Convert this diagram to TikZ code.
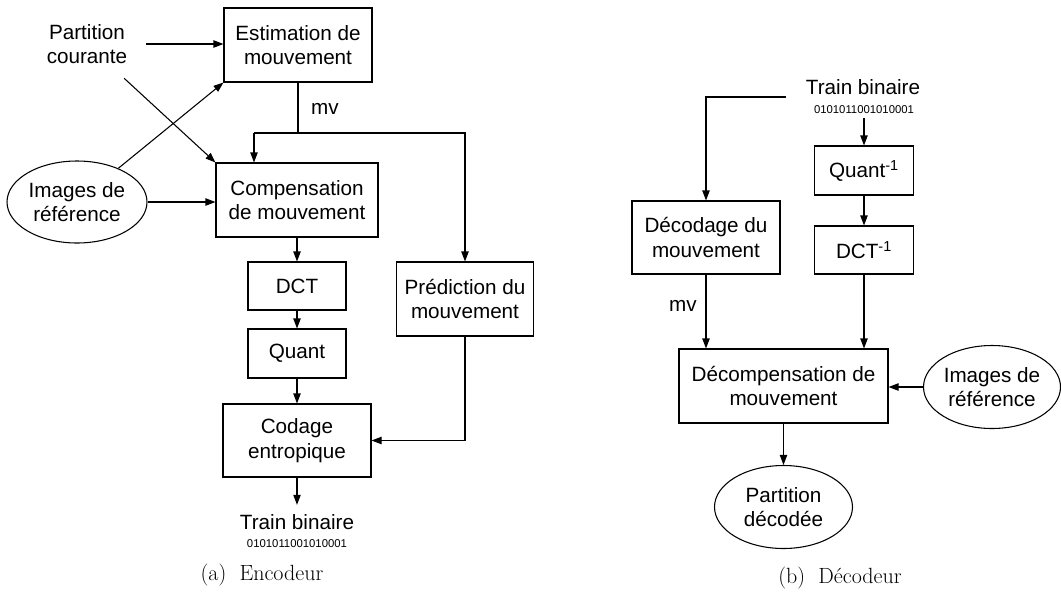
\documentclass[tikz,border=0pt]{standalone}
\usepackage{fontspec}
\setsansfont{Liberation Sans}
\usepackage{tikz}
\usetikzlibrary{arrows.meta, positioning, calc, shapes.geometric}

\begin{document}
\begin{tikzpicture}[x=0.75pt, y=-0.75pt,
  font=\sffamily\fontsize{15.5}{18.5}\selectfont,
  block/.style={draw, line width=0.8pt, align=center, inner sep=0pt},
  oval/.style={draw, ellipse, line width=0.8pt, align=center, inner sep=0pt},
  arr/.style={-{Triangle[length=7.5pt,width=5.5pt]}, line width=0.8pt},
  ln/.style={line width=0.8pt},
  bits/.style={font=\sffamily\fontsize{8.5}{10}\selectfont, inner sep=3pt},
  capt/.style={font=\rmfamily\fontsize{16.5}{19}\selectfont}]
  \useasboundingbox (0,0) rectangle (1061,597);

  % encodeur
  \node[align=center, minimum width=88.5pt, minimum height=51pt, inner sep=0pt] (cur) at (87,44) {Partition\\courante};
  \node[block, minimum width=111pt, minimum height=55.5pt] (est) at (298,45) {Estimation de\\mouvement};
  \node[oval, minimum width=105pt, minimum height=61.5pt] (refA) at (77,202) {Images de\\référence};
  \node[block, minimum width=121.5pt, minimum height=55.5pt] (comp) at (297,200) {Compensation\\de mouvement};
  \node[block, minimum width=73.5pt, minimum height=36pt] (dct) at (297,286) {DCT};
  \node[block, minimum width=73.5pt, minimum height=36.75pt] (quant) at (297,353.5) {Quant};
  \node[block, minimum width=111pt, minimum height=54.75pt] (cod) at (297,440.5) {Codage\\entropique};
  \node[block, minimum width=102.75pt, minimum height=55.5pt] (pred) at (465,299) {Prédiction du\\mouvement};
  \node (mvA) at (325,109) {mv};
  \node[inner sep=7pt] (trainA) at (297,522) {Train binaire};
  \node[bits] (bitsA) at (297,544) {0101011001010001};
  \node[capt] (captA) at (262,575) {(a)\hspace{0.6em}Encodeur};

  \draw[arr] (cur.east) -- (cur.east -| est.west);
  \draw[arr] (cur) -- (comp.north west);
  \draw[arr] (refA) -- (est.south west);
  \draw[arr] (refA.east) -- (refA.east -| comp.west);
  \coordinate (split) at (est.south |- 0,133);
  \coordinate (mvL) at (254,133);
  \draw[ln] (est.south) -- (split);
  \draw[arr] (mvL) -- (mvL |- comp.north);
  \draw[arr] (mvL) -| (pred.north);
  \draw[arr] (comp) -- (dct);
  \draw[arr] (dct) -- (quant);
  \draw[arr] (quant) -- (cod);
  \draw[arr] (pred.south) |- (cod.east);
  \draw[arr] (cod) -- (trainA);

  % decodeur
  \node[inner sep=3pt] (trainB) at (863,87) {Train binaire};
  \node[bits] (bitsB) at (864,110) {0101011001010001};
  \node[block, minimum width=74.25pt, minimum height=36.75pt] (qinv) at (864,170.5) {Quant\textsuperscript{-1}};
  \node[block, minimum width=74.25pt, minimum height=36pt] (dinv) at (864,250) {DCT\textsuperscript{-1}};
  \node[block, minimum width=111pt, minimum height=54.75pt] (decm) at (706,237.5) {Décodage du\\mouvement};
  \node[block, minimum width=156.75pt, minimum height=55.5pt] (decomp) at (783.5,386) {Décompensation de\\mouvement};
  \node[oval, minimum width=102.75pt, minimum height=62.25pt] (refB) at (992,387) {Images de\\référence};
  \node[oval, minimum width=103.5pt, minimum height=62.25pt] (partB) at (783.5,507) {Partition\\décodée};
  \node (mvB) at (683,306) {mv};
  \node[capt] (captB) at (840,578) {(b)\hspace{0.6em}Décodeur};

  \coordinate (tapB) at ([xshift=-12pt, yshift=-7.5pt]trainB.west);
  \draw[arr] (tapB) -| (decm.north);
  \draw[arr] (bitsB) -- (qinv);
  \draw[arr] (qinv) -- (dinv);
  \draw[arr] (decm.south) -- (decm.south |- decomp.north);
  \draw[arr] (dinv.south) -- (dinv.south |- decomp.north);
  \draw[arr] (refB.west) -- (refB.west -| decomp.east);
  \draw[arr] (decomp.south) -- (partB.north);
\end{tikzpicture}
\end{document}
